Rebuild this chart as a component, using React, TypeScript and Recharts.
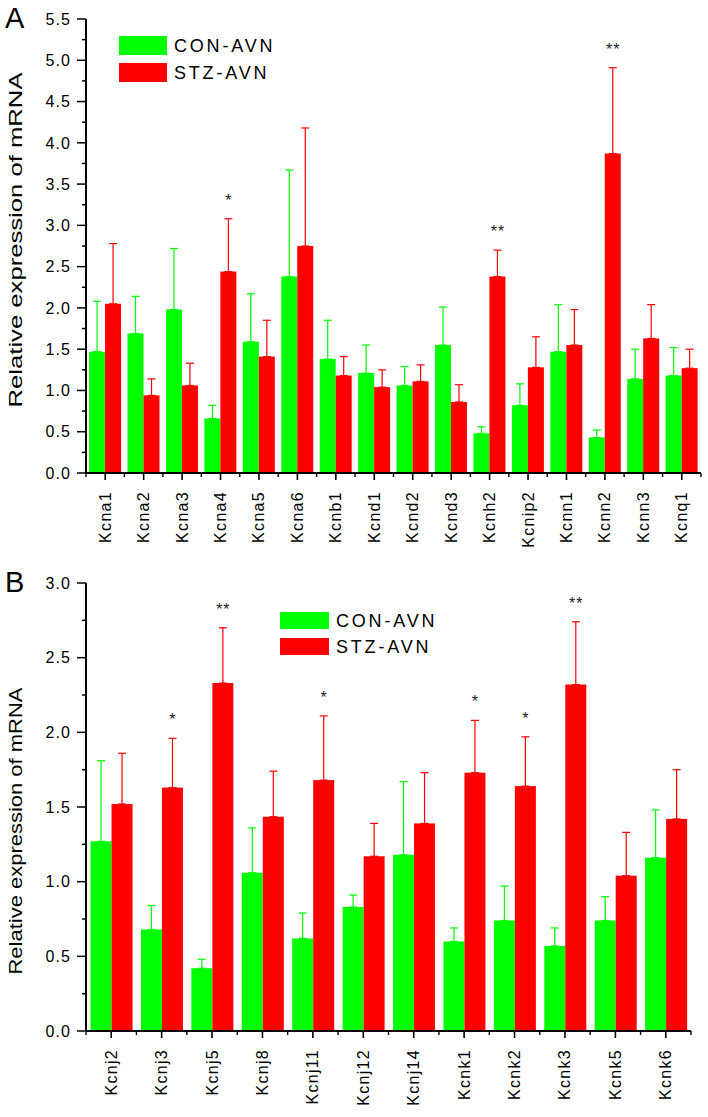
import React from "react";
import { BarChart, Bar, XAxis, YAxis, ErrorBar, Legend, Label } from "recharts";

// Panel A - Kv / other K channel genes
const genesA = ["Kcna1", "Kcna2", "Kcna3", "Kcna4", "Kcna5", "Kcna6", "Kcnb1", "Kcnd1", "Kcnd2", "Kcnd3", "Kcnh2", "Kcnip2", "Kcnn1", "Kcnn2", "Kcnn3", "Kcnq1"];
const conA = [1.47, 1.69, 1.98, 0.66, 1.59, 2.38, 1.38, 1.21, 1.06, 1.55, 0.48, 0.82, 1.47, 0.43, 1.14, 1.18];
const conErrA = [0.61, 0.45, 0.74, 0.16, 0.58, 1.29, 0.47, 0.34, 0.23, 0.46, 0.08, 0.26, 0.57, 0.09, 0.36, 0.34];
const stzA = [2.05, 0.94, 1.06, 2.44, 1.41, 2.75, 1.18, 1.04, 1.11, 0.86, 2.38, 1.28, 1.55, 3.87, 1.63, 1.27];
const stzErrA = [0.73, 0.2, 0.27, 0.64, 0.44, 1.43, 0.23, 0.21, 0.2, 0.21, 0.32, 0.37, 0.43, 1.04, 0.41, 0.23];
const sigA = ["", "", "", "*", "", "", "", "", "", "", "**", "", "", "**", "", ""];
const ticksA = [0, 0.25, 0.5, 0.75, 1, 1.25, 1.5, 1.75, 2, 2.25, 2.5, 2.75, 3, 3.25, 3.5, 3.75, 4, 4.25, 4.5, 4.75, 5, 5.25, 5.5];

// Panel B - Kir / K2P genes
const genesB = ["Kcnj2", "Kcnj3", "Kcnj5", "Kcnj8", "Kcnj11", "Kcnj12", "Kcnj14", "Kcnk1", "Kcnk2", "Kcnk3", "Kcnk5", "Kcnk6"];
const conB = [1.27, 0.68, 0.42, 1.06, 0.62, 0.83, 1.18, 0.6, 0.74, 0.57, 0.74, 1.16];
const conErrB = [0.54, 0.16, 0.06, 0.3, 0.17, 0.08, 0.49, 0.09, 0.23, 0.12, 0.16, 0.32];
const stzB = [1.52, 1.63, 2.33, 1.435, 1.68, 1.17, 1.39, 1.73, 1.64, 2.32, 1.04, 1.42];
const stzErrB = [0.34, 0.33, 0.37, 0.305, 0.43, 0.22, 0.34, 0.35, 0.33, 0.42, 0.29, 0.33];
const sigB = ["", "*", "**", "", "*", "", "", "*", "*", "**", "", ""];
const ticksB = [0, 0.25, 0.5, 0.75, 1, 1.25, 1.5, 1.75, 2, 2.25, 2.5, 2.75, 3];

const seriesNames = ["CON-AVN", "STZ-AVN"];
const GREEN = "#00ff00";
const RED = "#ff0000";
const FONT = '"Liberation Sans", Arial, sans-serif';

function buildRows(genes: string[], con: number[], conErr: number[], stz: number[], stzErr: number[], sig: string[]) {
  return genes.map((g, i) => ({
    gene: g,
    con: con[i],
    conErr: [0, conErr[i]],
    stz: stz[i],
    stzErr: [0, stzErr[i]],
    stzTop: stz[i] + stzErr[i],
    sig: sig[i],
  }));
}

const rowsA = buildRows(genesA, conA, conErrA, stzA, stzErrA, sigA);
const rowsB = buildRows(genesB, conB, conErrB, stzB, stzErrB, sigB);

// red bar + significance stars above its error bar
const StzShape = (props: any) => {
  const { x, y, width, height, payload, fill } = props;
  const pxPerUnit = height / payload.stz;
  const topY = y + height - payload.stzTop * pxPerUnit;
  return (
    <g>
      <rect x={x} y={y} width={width} height={height} fill={fill} />
      {payload.sig ? (
        <text x={x + width / 2 + 0.5} y={topY - 13} textAnchor="middle" fontSize={16} fontFamily={FONT} letterSpacing={1} fill="#222">
          {payload.sig}
        </text>
      ) : null}
    </g>
  );
};

const makeXTick = (band: number, count: number) => (props: any) => {
  const { x, y, payload, index } = props;
  return (
    <g>
      <line x1={x} x2={x} y1={y} y2={y + 7} stroke="#000" strokeWidth={1.6} />
      <line x1={x - band / 2} x2={x - band / 2} y1={y} y2={y + 4} stroke="#000" strokeWidth={1.4} />
      {index === count - 1 ? <line x1={x + band / 2} x2={x + band / 2} y1={y} y2={y + 4} stroke="#000" strokeWidth={1.4} /> : null}
      <text transform={`translate(${x + 5.5},${y + 18}) rotate(-90)`} textAnchor="end" fontSize={16} letterSpacing={1.3} fontFamily={FONT} fill="#000">
        {payload.value}
      </text>
    </g>
  );
};

const YTick = (props: any) => {
  const { x, y, payload } = props;
  const v = payload.value as number;
  const major = Math.abs(v * 2 - Math.round(v * 2)) < 1e-6;
  return (
    <g>
      <line x1={x - (major ? 9 : 4)} x2={x} y1={y} y2={y} stroke="#000" strokeWidth={1.5} />
      {major ? (
        <text x={x - 15} y={y} dy="0.36em" textAnchor="end" fontSize={16} letterSpacing={1.1} fontFamily={FONT} fill="#000">
          {v.toFixed(1)}
        </text>
      ) : null}
    </g>
  );
};

const makeYLabel = (shift: number, len: number) => (props: any) => {
  const vb = props.viewBox;
  const cy = vb.y + vb.height / 2 + shift;
  return (
    <text transform={`translate(22,${cy}) rotate(-90)`} textAnchor="middle" fontSize={18} fontFamily={FONT} fill="#000" textLength={len} lengthAdjust="spacingAndGlyphs">
      Relative expression of mRNA
    </text>
  );
};

const makeLegend = (w: number, h: number, gap: number) => () => (
  <div style={{ fontFamily: FONT }}>
    {seriesNames.map((name, i) => (
      <div key={name} style={{ display: "flex", alignItems: "center", height: h, marginBottom: i === 0 ? gap : 0 }}>
        <div style={{ width: w, height: h, background: i === 0 ? GREEN : RED }} />
        <span style={{ marginLeft: 7, fontSize: 18, letterSpacing: 2.8, color: "#000", lineHeight: 1 }}>{name}</span>
      </div>
    ))}
  </div>
);

const PanelLetter = ({ letter, top }: { letter: string; top: number }) => (
  <svg width={40} height={40} style={{ position: "absolute", left: 0, top }}>
    <text x={5} y={28} fontSize={29} fontFamily={FONT} fill="#000">
      {letter}
    </text>
  </svg>
);

export default function App() {
  const plotWA = 708 - 7 - 86;
  const plotWB = 708 - 17 - 86;
  return (
    <div style={{ position: "absolute", left: 0, top: 0, width: 708, height: 1117, background: "#fff" }}>
      <div style={{ position: "absolute", left: 0, top: 0 }}>
        <BarChart width={708} height={560} data={rowsA} margin={{ top: 19, right: 7, bottom: 0, left: 0 }} barGap={0} barCategoryGap="8%">
          <XAxis dataKey="gene" height={87} interval={0} tickSize={0} tickMargin={0} tickLine={false} axisLine={{ stroke: "#000", strokeWidth: 2 }} tick={makeXTick(plotWA / genesA.length, genesA.length)} />
          <YAxis domain={[0, 5.5]} ticks={ticksA} width={86} interval={0} tickSize={0} tickMargin={0} tickLine={false} axisLine={{ stroke: "#000", strokeWidth: 2 }} tick={YTick}>
            <Label content={makeYLabel(-6, 335)} />
          </YAxis>
          <Legend layout="vertical" align="center" verticalAlign="middle" wrapperStyle={{ left: 119, top: 36, width: "auto", height: "auto" }} content={makeLegend(48, 19, 8)} />
          <Bar dataKey="con" name={seriesNames[0]} fill={GREEN} isAnimationActive={false}>
            <ErrorBar dataKey="conErr" width={4} stroke={GREEN} strokeWidth={1.2} direction="y" />
          </Bar>
          <Bar dataKey="stz" name={seriesNames[1]} fill={RED} isAnimationActive={false} shape={StzShape}>
            <ErrorBar dataKey="stzErr" width={4} stroke={RED} strokeWidth={1.2} direction="y" />
          </Bar>
        </BarChart>
      </div>
      <div style={{ position: "absolute", left: 0, top: 560 }}>
        <BarChart width={708} height={557} data={rowsB} margin={{ top: 23, right: 17, bottom: 0, left: 0 }} barGap={0} barCategoryGap="9%">
          <XAxis dataKey="gene" height={86} interval={0} tickSize={0} tickMargin={0} tickLine={false} axisLine={{ stroke: "#000", strokeWidth: 2 }} tick={makeXTick(plotWB / genesB.length, genesB.length)} />
          <YAxis domain={[0, 3]} ticks={ticksB} width={86} interval={0} tickSize={0} tickMargin={0} tickLine={false} axisLine={{ stroke: "#000", strokeWidth: 2 }} tick={YTick}>
            <Label content={makeYLabel(24, 287)} />
          </YAxis>
          <Legend layout="vertical" align="center" verticalAlign="middle" wrapperStyle={{ left: 280, top: 52, width: "auto", height: "auto" }} content={makeLegend(49, 17, 9)} />
          <Bar dataKey="con" name={seriesNames[0]} fill={GREEN} isAnimationActive={false}>
            <ErrorBar dataKey="conErr" width={4} stroke={GREEN} strokeWidth={1.2} direction="y" />
          </Bar>
          <Bar dataKey="stz" name={seriesNames[1]} fill={RED} isAnimationActive={false} shape={StzShape}>
            <ErrorBar dataKey="stzErr" width={4} stroke={RED} strokeWidth={1.2} direction="y" />
          </Bar>
        </BarChart>
      </div>
      <PanelLetter letter="A" top={0} />
      <PanelLetter letter="B" top={564} />
    </div>
  );
}
